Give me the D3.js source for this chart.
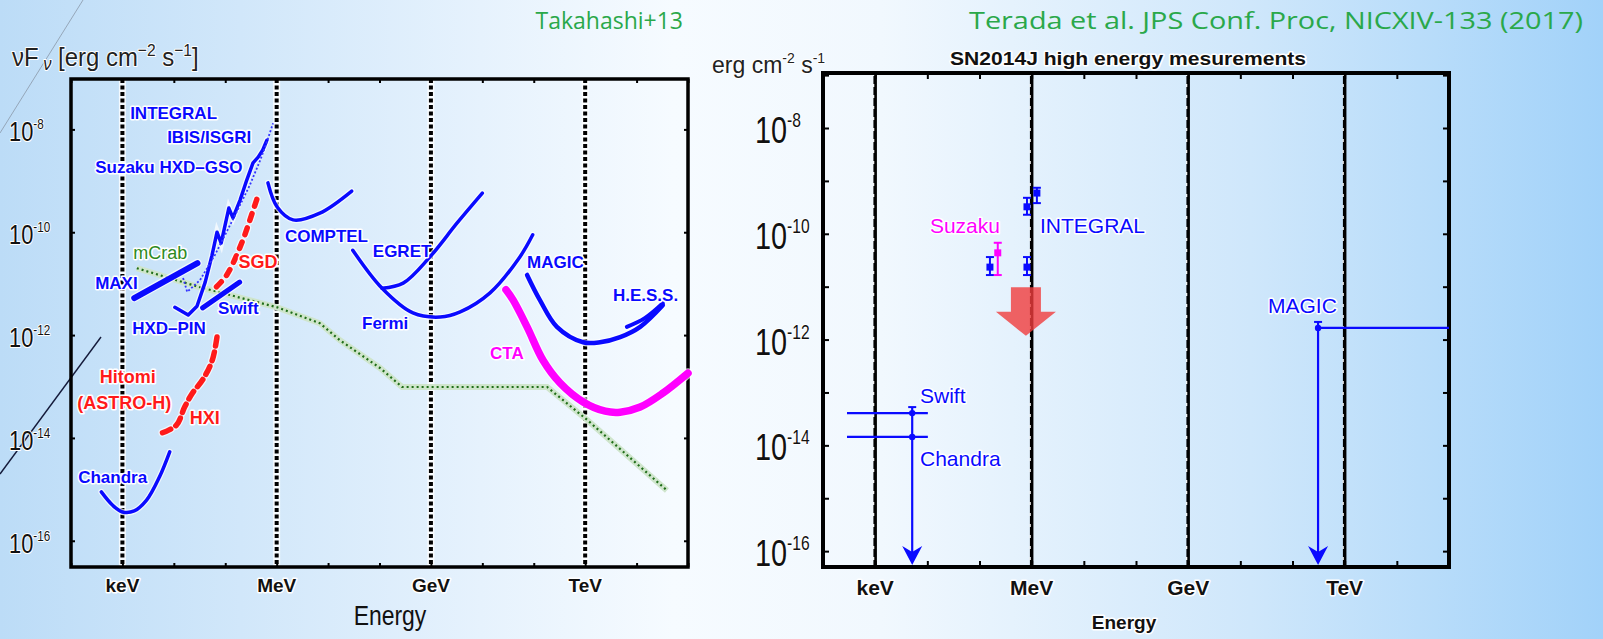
<!DOCTYPE html>
<html>
<head>
<meta charset="utf-8">
<script src="https://cdn.jsdelivr.net/npm/d3@7"></script>
<style>
  body { margin: 0; overflow: hidden; }
  svg { display: block; font-family: "Liberation Sans", Arial, sans-serif; }
  .halo { paint-order: stroke; stroke: #fff; stroke-width: 3px; stroke-linejoin: round; }
  .tick line { stroke: #000; stroke-width: 2px; }
</style>
</head>
<body>
<svg id="slide" width="1603" height="639"></svg>
<script>
// every value is a log10: energy in eV, flux in erg cm^-2 s^-1
var energyTicks = [3, 6, 9, 12];
var energyNames = ["keV", "MeV", "GeV", "TeV"];
var leftFluxTicks = [-8, -10, -12, -14, -16];
var rightFluxTicks = [-8, -10, -12, -14, -16];

// left panel: sensitivity curves (Takahashi+13)
var chandra = [[2.59, -15.05], [2.81, -15.31], [3.0, -15.44], [3.23, -15.42], [3.47, -15.21], [3.72, -14.76], [3.92, -14.27]];
var hitomiHXI = [[3.78, -13.90], [4.05, -13.75], [4.21, -13.40], [4.36, -13.13], [4.56, -12.87], [4.75, -12.48], [4.85, -11.96]];
var hitomiSGD = [[4.83, -11.06], [5.03, -10.83], [5.32, -10.21], [5.53, -9.61], [5.63, -9.31]];
var maxi = [[3.23, -11.28], [4.46, -10.60]];
var swiftBat = [[4.56, -11.47], [5.28, -10.97]];
var suzakuHXD = [[4.02, -11.46], [4.28, -11.61], [4.45, -11.44], [4.61, -10.97], [4.74, -10.46], [4.84, -10.00], [4.92, -10.21],
  [5.07, -9.53], [5.15, -9.72], [5.29, -9.37], [5.42, -8.98], [5.54, -8.65], [5.64, -8.54], [5.73, -8.40], [5.81, -8.21]];
var integralIBIS = [[4.18, -10.89], [4.26, -11.16], [4.51, -10.93], [4.80, -10.44], [5.19, -9.67], [5.48, -9.08], [5.68, -8.60], [5.79, -8.30], [5.93, -7.88]];
var comptel = [[5.83, -9.04], [6.01, -9.51], [6.32, -9.76], [6.84, -9.63], [7.46, -9.20]];
var egret = [[8.05, -11.09], [8.46, -10.99], [8.98, -10.48], [9.51, -9.82], [10.0, -9.24]];
var fermi = [[7.48, -10.35], [8.05, -11.09], [8.65, -11.57], [9.18, -11.65], [9.57, -11.55], [10.15, -11.18], [10.73, -10.48], [10.98, -10.05]];
var magic = [[10.87, -10.83], [11.12, -11.32], [11.45, -11.84], [11.96, -12.14], [12.29, -12.14], [12.68, -12.04], [13.07, -11.84], [13.51, -11.42]];
var hess = [[12.81, -11.84], [13.16, -11.67], [13.51, -11.38]];
var cta = [[10.46, -11.12], [10.60, -11.32], [10.87, -11.84], [11.18, -12.49], [11.51, -12.93], [11.96, -13.30], [12.39, -13.48],
  [12.68, -13.50], [13.07, -13.40], [13.51, -13.13], [14.0, -12.74]];
var mCrab = [[3.28, -10.70], [4.51, -11.07], [6.01, -11.46], [6.84, -11.77], [7.23, -12.10], [8.01, -12.64], [8.44, -13.01],
  [11.26, -13.01], [12.04, -13.65], [13.59, -15.02]];

var leftLabels = [
  ["INTEGRAL", 3.15, -7.68, "blue"],
  ["IBIS/ISGRI", 3.87, -8.15, "blue"],
  ["Suzaku HXD\u2013GSO", 2.47, -8.73, "blue"],
  ["mCrab", 3.21, -10.39, "crab"],
  ["MAXI", 2.47, -10.99, "blue"],
  ["SGD", 5.26, -10.56, "hitomi"],
  ["Swift", 4.86, -11.47, "blue"],
  ["HXD\u2013PIN", 3.19, -11.86, "blue"],
  ["COMPTEL", 6.16, -10.07, "blue"],
  ["EGRET", 7.87, -10.37, "blue"],
  ["Fermi", 7.66, -11.77, "blue"],
  ["MAGIC", 10.87, -10.58, "blue"],
  ["H.E.S.S.", 12.54, -11.22, "blue"],
  ["CTA", 10.15, -12.35, "cta"],
  ["Hitomi", 2.56, -12.80, "hitomi"],
  ["(ASTRO-H)", 2.12, -13.32, "hitomi"],
  ["HXI", 4.31, -13.60, "hitomi"],
  ["Chandra", 2.14, -14.76, "blue"]
];

// right panel: SN2014J measurements (Terada et al. 2017)
// [energy, flux, flux low, flux high]
var suzakuPoints = [[5.35, -10.36, -10.78, -10.17]];
var integralPoints = [[5.20, -10.63, -10.78, -10.44], [5.91, -10.63, -10.78, -10.44], [5.91, -9.49, -9.64, -9.32], [6.10, -9.23, -9.42, -9.13]];
// upper limits: [energy from, energy to, marker energy, flux]
var swiftLimit = [2.46, 4.01, 3.71, -13.39];
var chandraLimit = [2.46, 4.01, 3.71, -13.84];
var magicLimit = [11.49, 14.0, 11.49, -11.78];
var limitFloor = -16.26;
// MeV upper limit arrow: [energy, flux top, flux tip]
var mevLimit = [5.89, -11.01, -11.93];

var rightLabels = [
  ["Suzaku", 4.05, -9.85, "suzaku"],
  ["INTEGRAL", 6.16, -9.85, "blue"],
  ["Swift", 3.86, -13.05, "blue"],
  ["Chandra", 3.86, -14.24, "blue"],
  ["MAGIC", 10.53, -11.35, "blue"]
];

var p10 = function (v) { return Math.pow(10, v); };
var color = d3.scaleOrdinal()
  .domain(["blue", "hitomi", "crab", "cta", "suzaku"])
  .range(["#0a0aff", "#ff1a1a", "#2e8a22", "#ff00ff", "#ff00ff"]);

var svg = d3.select("#slide");
var defs = svg.append("defs");
var grad = defs.append("linearGradient").attr("id", "bg");
[[0, "#bcdcf7"], [0.3, "#e6f2fd"], [0.42, "#f6fbff"], [0.55, "#f1f8fe"], [0.78, "#cfe7fb"], [1, "#a2d2f9"]]
  .forEach(function (s) { grad.append("stop").attr("offset", s[0]).attr("stop-color", s[1]); });
svg.append("rect").attr("width", 1603).attr("height", 639).attr("fill", "url(#bg)");

// decorative slide lines
svg.append("line").attr("x1", 0).attr("y1", 133).attr("x2", 83).attr("y2", 0)
  .attr("stroke", "#8a98a8").attr("stroke-width", 0.8);
svg.append("line").attr("x1", 0).attr("y1", 474).attr("x2", 101).attr("y2", 337)
  .attr("stroke", "#141a3a").attr("stroke-width", 1.4);

// credits
svg.append("text").attr("x", 683).attr("y", 29).attr("text-anchor", "end").text("Takahashi+13")
  .attr("font-family", "Open Sans").attr("font-size", 23).attr("fill", "#2aa84a");
svg.append("text").attr("x", 969).attr("y", 29).text("Terada et al. JPS Conf. Proc, NICXIV-133 (2017)")
  .attr("font-family", "Open Sans").attr("font-size", 23).attr("fill", "#2aa84a")
  .attr("textLength", 614).attr("lengthAdjust", "spacingAndGlyphs");

function tickLabels(g, y, values, x0, big, small, drop, rise, squeeze) {
  values.forEach(function (v) {
    var t = g.append("g").attr("transform", "translate(" + x0 + "," + (y(p10(v)) + drop) + ") scale(" + squeeze + ",1)")
      .append("text").attr("class", "halo").attr("fill", "#111").style("stroke-width", "2px")
      .attr("font-size", big);
    t.append("tspan").text("10");
    t.append("tspan").attr("dy", -rise).attr("font-size", small).text(v);
  });
}

function insideTicks(g, x, y, xv, yv, size) {
  var xr = x.range(), yr = y.range();
  [[d3.axisBottom(x), yr[0], -size], [d3.axisTop(x), yr[1], -size]].forEach(function (a) {
    g.append("g").attr("transform", "translate(0," + a[1] + ")")
      .call(a[0].tickValues(xv.map(p10)).tickSize(a[2]).tickFormat(""))
      .call(function (s) { s.select(".domain").remove(); });
  });
  [[d3.axisLeft(y), xr[0]], [d3.axisRight(y), xr[1]]].forEach(function (a) {
    g.append("g").attr("transform", "translate(" + a[1] + ",0)")
      .call(a[0].tickValues(yv.map(p10)).tickSize(-size).tickFormat(""))
      .call(function (s) { s.select(".domain").remove(); });
  });
}

function frame(g, x, y, w) {
  g.append("rect").attr("x", x.range()[0]).attr("y", y.range()[1])
    .attr("width", x.range()[1] - x.range()[0]).attr("height", y.range()[0] - y.range()[1])
    .attr("fill", "none").attr("stroke", "#000").attr("stroke-width", w);
}

// ---------------- left panel ----------------
var xL = d3.scaleLog().domain([1e2, 1e14]).range([71, 688]);
var yL = d3.scaleLog().domain([p10(-16.51), p10(-7.02)]).range([567, 79]);
var left = svg.append("g");

var vlinesL = left.selectAll(".vl").data(energyTicks).enter().append("g");
vlinesL.append("line").attr("stroke", "#fff").attr("stroke-width", 7).attr("stroke-opacity", 0.8);
vlinesL.append("line").attr("stroke", "#000").attr("stroke-width", 4).attr("stroke-dasharray", "4,2.5");
vlinesL.selectAll("line").attr("x1", function (d) { return xL(p10(d)); }).attr("x2", function (d) { return xL(p10(d)); })
  .attr("y1", yL.range()[1]).attr("y2", yL.range()[0]);

insideTicks(left, xL, yL, d3.range(2, 15), leftFluxTicks, 4);
frame(left, xL, yL, 3.5);
tickLabels(left, yL, leftFluxTicks, 9, 28, 15, 12, 12, 0.78);

var lineL = d3.line().x(function (d) { return xL(p10(d[0])); }).y(function (d) { return yL(p10(d[1])); });
var smoothL = d3.line().x(function (d) { return xL(p10(d[0])); }).y(function (d) { return yL(p10(d[1])); }).curve(d3.curveCatmullRom);

// mCrab reference
left.append("path").attr("d", lineL(mCrab)).attr("fill", "none").attr("stroke", "#cfe5cc").attr("stroke-width", 6);
left.append("path").attr("d", lineL(mCrab)).attr("fill", "none").attr("stroke", "#1f6e18").attr("stroke-width", 2.2)
  .attr("stroke-dasharray", "2,3");

var leftCurves = [
  [chandra, "blue", 3.5, null, smoothL],
  [maxi, "blue", 6, null, lineL],
  [swiftBat, "blue", 5, null, lineL],
  [suzakuHXD, "blue", 3.5, null, lineL],
  [comptel, "blue", 3.5, null, smoothL],
  [fermi, "blue", 3.5, null, smoothL],
  [egret, "blue", 3.5, null, smoothL],
  [magic, "blue", 4.5, null, smoothL],
  [hess, "blue", 4, null, smoothL],
  [cta, "cta", 7.5, null, smoothL],
  [hitomiHXI, "hitomi", 5.5, "9,6", smoothL],
  [hitomiSGD, "hitomi", 5.5, "7,8", smoothL]
];
leftCurves.forEach(function (c) {
  left.append("path").attr("d", c[4](c[0])).attr("fill", "none").attr("stroke", "#fff").attr("stroke-opacity", 0.7)
    .attr("stroke-width", c[2] + 2.5).attr("stroke-linecap", "round").attr("stroke-dasharray", c[3]);
});
leftCurves.forEach(function (c) {
  left.append("path").attr("d", c[4](c[0])).attr("fill", "none").attr("stroke", color(c[1]))
    .attr("stroke-width", c[2]).attr("stroke-linecap", "round").attr("stroke-linejoin", "round")
    .attr("stroke-dasharray", c[3]);
});
left.append("path").attr("d", lineL(integralIBIS)).attr("fill", "none").attr("stroke", "#3535ff")
  .attr("stroke-width", 1.8).attr("stroke-dasharray", "2,2");

left.selectAll(".lab").data(leftLabels).enter().append("text").attr("class", "halo")
  .attr("x", function (d) { return xL(p10(d[1])); })
  .attr("y", function (d) { return yL(p10(d[2])); })
  .attr("dy", "0.36em")
  .attr("font-weight", function (d) { return d[3] === "crab" ? "normal" : "bold"; })
  .attr("font-size", function (d) { return d[3] === "blue" || d[3] === "cta" ? 17 : 18; })
  .attr("fill", function (d) { return color(d[3]); })
  .text(function (d) { return d[0]; });

left.selectAll(".xl").data(energyTicks).enter().append("text").attr("class", "halo")
  .attr("x", function (d) { return xL(p10(d)); }).attr("y", 592)
  .attr("text-anchor", "middle").attr("font-weight", "bold").attr("font-size", 19).attr("fill", "#111")
  .text(function (d, i) { return energyNames[i]; });
left.append("g").attr("transform", "translate(390,625) scale(0.85,1)")
  .append("text").attr("text-anchor", "middle").attr("font-size", 27).attr("fill", "#111").text("Energy");

var yLab = left.append("g").attr("transform", "translate(12,66) scale(0.92,1)")
  .append("text").attr("class", "halo").style("stroke-width", "2px").attr("font-size", 26).attr("fill", "#222");
yLab.append("tspan").text("\u03bdF");
yLab.append("tspan").attr("font-size", 18).attr("font-style", "italic").attr("dy", 4).text(" \u03bd");
yLab.append("tspan").attr("dy", -4).text("  [erg cm");
yLab.append("tspan").attr("font-size", 17).attr("dy", -10).text("\u22122");
yLab.append("tspan").attr("dy", 10).text(" s");
yLab.append("tspan").attr("font-size", 17).attr("dy", -10).text("\u22121");
yLab.append("tspan").attr("dy", 10).text("]");

// ---------------- right panel ----------------
var xR = d3.scaleLog().domain([1e2, 1e14]).range([823, 1449]);
var yR = d3.scaleLog().domain([p10(-16.3), p10(-6.96)]).range([567, 73]);
var right = svg.append("g");

var vlinesR = right.selectAll(".vr").data(energyTicks).enter().append("g");
vlinesR.append("line").attr("stroke", "#000").attr("stroke-width", 3.5)
  .attr("x1", function (d) { return xR(p10(d)); }).attr("x2", function (d) { return xR(p10(d)); });
vlinesR.append("line").attr("stroke", "#fff").attr("stroke-width", 1.2).attr("stroke-dasharray", "3,8")
  .attr("x1", function (d) { return xR(p10(d)) - 1.5; }).attr("x2", function (d) { return xR(p10(d)) - 1.5; });
vlinesR.selectAll("line").attr("y1", yR.range()[1]).attr("y2", yR.range()[0]);

insideTicks(right, xR, yR, d3.range(2, 15), d3.range(-16, -6), 6);
frame(right, xR, yR, 4);
tickLabels(right, yR, rightFluxTicks, 755, 37, 20, 15, 16, 0.78);

right.append("text").attr("x", 1128).attr("y", 65).attr("text-anchor", "middle").attr("class", "halo")
  .attr("font-weight", "bold").attr("font-size", 19).attr("fill", "#111")
  .attr("textLength", 356).attr("lengthAdjust", "spacingAndGlyphs")
  .text("SN2014J high energy mesurements");

var yLabR = right.append("text").attr("x", 712).attr("y", 73).attr("class", "halo").style("stroke-width", "2px")
  .attr("font-size", 23).attr("fill", "#222");
yLabR.append("tspan").text("erg cm");
yLabR.append("tspan").attr("font-size", 14).attr("dy", -10).text("-2");
yLabR.append("tspan").attr("dy", 10).text(" s");
yLabR.append("tspan").attr("font-size", 14).attr("dy", -10).text("-1");

// MeV upper limit (translucent red arrow)
var ax = xR(p10(mevLimit[0])), aTop = yR(p10(mevLimit[1])), aTip = yR(p10(mevLimit[2]));
right.append("path")
  .attr("d", "M" + (ax - 15) + "," + aTop + "H" + (ax + 15) + "V" + (aTip - 24) + "H" + (ax + 30) +
    "L" + ax + "," + aTip + "L" + (ax - 30) + "," + (aTip - 24) + "H" + (ax - 15) + "Z")
  .attr("fill", "#f03c3c").attr("fill-opacity", 0.8);

function errorPoints(data, key) {
  var g = right.append("g").attr("fill", color(key)).attr("stroke", color(key));
  data.forEach(function (d) {
    var px = xR(p10(d[0]));
    g.append("line").attr("x1", px).attr("x2", px).attr("y1", yR(p10(d[2]))).attr("y2", yR(p10(d[3]))).attr("stroke-width", 2);
    [d[2], d[3]].forEach(function (v) {
      g.append("line").attr("x1", px - 4).attr("x2", px + 4).attr("y1", yR(p10(v))).attr("y2", yR(p10(v))).attr("stroke-width", 2);
    });
    g.append("rect").attr("x", px - 3.5).attr("y", yR(p10(d[1])) - 3.5).attr("width", 7).attr("height", 7).attr("stroke", "none");
  });
}
errorPoints(integralPoints, "blue");
errorPoints(suzakuPoints, "suzaku");

[swiftLimit, chandraLimit, magicLimit].forEach(function (d, i) {
  var g = right.append("g").attr("stroke", color("blue")).attr("fill", color("blue"));
  var py = yR(p10(d[3]));
  g.append("line").attr("x1", xR(p10(d[0]))).attr("x2", xR(p10(d[1]))).attr("y1", py).attr("y2", py).attr("stroke-width", 2.2);
  g.append("circle").attr("cx", xR(p10(d[2]))).attr("cy", py).attr("r", 3.2).attr("stroke", "none");
  if (i !== 1) {
    var px = xR(p10(d[2])), floor = yR(p10(limitFloor));
    g.append("line").attr("x1", px).attr("x2", px).attr("y1", py - 6).attr("y2", floor - 8).attr("stroke-width", 2.2);
    g.append("line").attr("x1", px - 4).attr("x2", px + 4).attr("y1", py - 6).attr("y2", py - 6).attr("stroke-width", 2);
    g.append("path").attr("stroke", "none")
      .attr("d", "M" + (px - 10) + "," + (floor - 19) + "L" + px + "," + (floor - 13) + "L" + (px + 10) + "," + (floor - 19) +
        "L" + px + "," + floor + "Z");
  }
});

right.selectAll(".lab").data(rightLabels).enter().append("text").attr("class", "halo")
  .attr("x", function (d) { return xR(p10(d[1])); })
  .attr("y", function (d) { return yR(p10(d[2])); })
  .attr("dy", "0.36em").attr("font-size", 21)
  .attr("fill", function (d) { return color(d[3]); })
  .text(function (d) { return d[0]; });

right.selectAll(".xl").data(energyTicks).enter().append("text").attr("class", "halo")
  .attr("x", function (d) { return xR(p10(d)); }).attr("y", 595)
  .attr("text-anchor", "middle").attr("font-weight", "bold").attr("font-size", 21).attr("fill", "#111")
  .text(function (d, i) { return energyNames[i]; });
right.append("text").attr("x", 1124).attr("y", 629).attr("text-anchor", "middle").attr("class", "halo")
  .attr("font-weight", "bold").attr("font-size", 19).attr("fill", "#111").text("Energy");
</script>
</body>
</html>
